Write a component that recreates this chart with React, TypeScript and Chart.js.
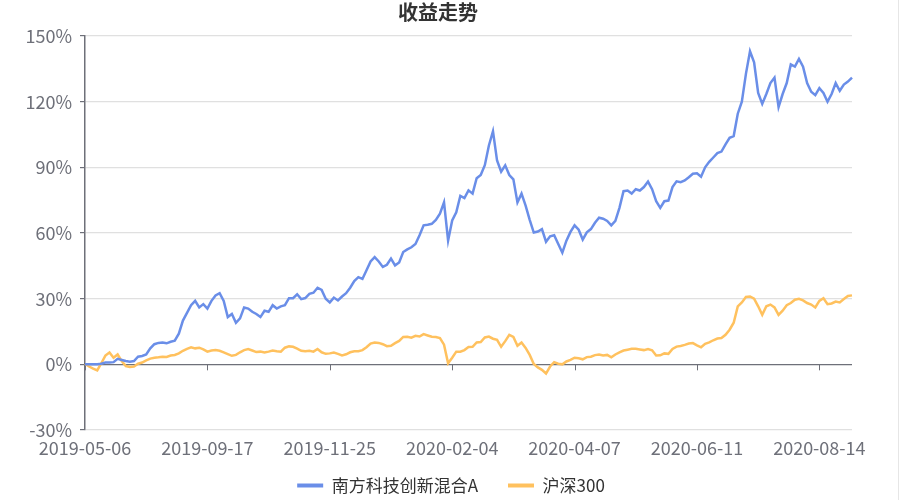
import React, { useEffect, useRef } from 'react';
import { Chart, registerables } from 'chart.js';

Chart.register(...registerables);

const titleText = '收益走势';
const seriesNames = ['南方科技创新混合A', '沪深300'];
const tickLabels = ['2019-05-06', '2019-09-17', '2019-11-25', '2020-02-04', '2020-04-07', '2020-06-11', '2020-08-14'];
const tickEvery = 30;
const yTicks = { min: -30, max: 150, step: 30 };

const fundValues = [
  0, 0, 0, 0, 0.3, 0.8, 0.8, 1, 2.5, 2,
  1.5, 1.2, 1.5, 3.5, 3.8, 4.5, 7.3, 9.2, 9.8, 10,
  9.6, 10.3, 10.8, 14, 20, 23.5, 27, 29, 26, 27.5,
  25.5, 29, 31.5, 32.5, 29, 21.6, 23, 19, 21, 26,
  25.5, 24, 23, 21.6, 24.5, 24, 27, 25.5, 26.5, 27,
  30.2, 30.2, 32, 29.8, 30.3, 32.2, 32.7, 35, 34, 30,
  28.3, 30.5, 29.2, 31, 32.5, 35, 38, 39.8, 39, 43,
  47, 49, 47, 44.5, 45.5, 48.3, 45.2, 46.5, 51.3, 52.5,
  53.5, 55, 59, 63.5, 63.8, 64.2, 66, 68.8, 74, 56.5,
  65.7, 69.5, 77, 76, 79.5, 78, 85, 86.5, 91, 100,
  106.5, 93.1, 88, 90.9, 86.5, 84.5, 74, 78, 72.5, 66,
  60.2, 60.7, 61.8, 56, 58.5, 59, 55, 51, 56.5, 60.5,
  63.5, 61.5, 57, 60.3, 61.8, 64.7, 67, 66.5, 65.5, 63.5,
  65.5, 71.5, 79.1, 79.4, 78, 80, 79.4, 81, 83.5, 80,
  74.5, 71.5, 74.5, 74.8, 81, 83.6, 83.2, 84, 85.5, 87.1,
  87.3, 85.7, 90, 92.5, 94.5, 96.5, 97.2, 100.5, 103.5, 104.3,
  114.5, 120, 132.7, 143, 138, 124, 119, 123.5, 128.5, 131,
  117.5, 123.5, 128.5, 137, 136, 139.5, 136, 128.5, 124.5, 123,
  126.2, 124, 120, 123.5, 128.5, 125, 127.8, 129.2, 131,
];

const indexValues = [
  0.3, -1, -2, -2.8, 0.5, 4, 5.4, 3, 4.5, 1.5,
  -0.8, -1.2, -1, 0.3, 0.8, 1.8, 2.6, 3, 3.2, 3.5,
  3.4, 4, 4.3, 5, 6.2, 7.1, 7.8, 7.3, 7.6, 6.8,
  5.8, 6.3, 6.5, 6.2, 5.5, 4.7, 3.9, 4.3, 5.5, 6.5,
  7, 6.3, 5.6, 5.8, 5.4, 5.8, 6.3, 6, 5.8, 7.6,
  8.2, 8, 7.2, 6.2, 6, 6.2, 5.8, 7, 5.5, 4.8,
  5, 5.4, 4.8, 4.1, 4.6, 5.5, 6, 6, 6.5, 7.8,
  9.5, 10, 9.8, 9.2, 8.3, 8.5, 9.7, 10.7, 12.5, 12.6,
  12.2, 13, 12.7, 13.8, 13.2, 12.6, 12.5, 12, 9, 0.5,
  3, 5.8, 5.8, 6.5, 7.9, 8, 10, 10.2, 12.3, 12.7,
  11.7, 11.2, 8, 10.6, 13.5, 12.5, 8.5, 10, 7.5, 4.3,
  0.2, -1.4, -2.5, -4.2, -1, 1, 0.3, 0, 1.3, 2,
  3, 2.8, 2.3, 3.3, 3.5, 4.2, 4.5, 4, 4.3, 3.2,
  4.5, 5.5, 6.3, 6.7, 7.1, 7.1, 6.8, 6.5, 7, 6.4,
  4, 4.1, 5, 4.8, 7, 8.1, 8.4, 8.9, 9.5, 9.7,
  8.7, 7.8, 9.4, 10, 11, 11.8, 12, 13.5, 15.8, 19,
  26.5, 28.3, 30.8, 31, 30, 26.5, 22.6, 26.5, 27.3, 26,
  22.6, 24.5, 27, 28, 29.5, 29.9, 29.2, 28, 27.3, 26,
  29, 30.2, 27.5, 27.8, 28.7, 28.3, 29.8, 31.2, 31.5,
];

const categories = fundValues.map((_, i) => (i % tickEvery === 0 ? tickLabels[i / tickEvery] ?? '' : ''));

const FONT = '"Noto Sans CJK SC", "Noto Sans", sans-serif';
const AXIS_DARK = '#6E7079';
const GRID_LIGHT = '#E0E0E0';
const BLUE = '#6A8EE8';
const ORANGE = '#FFC15E';

const titlePlugin = {
  id: 'customTitle',
  afterDraw(chart: any) {
    const ctx = chart.ctx;
    ctx.save();
    ctx.font = `bold 20px ${FONT}`;
    ctx.fillStyle = '#333333';
    ctx.textAlign = 'center';
    ctx.textBaseline = 'middle';
    ctx.fillText(titleText, chart.width / 2 - 13, 12);
    ctx.restore();
  },
};

const zeroAxisTicks = {
  id: 'zeroAxisTicks',
  beforeDatasetsDraw(chart: any) {
    const xs = chart.scales.x;
    const ys = chart.scales.y;
    const y0 = ys.getPixelForValue(0);
    const ctx = chart.ctx;
    ctx.save();
    ctx.strokeStyle = AXIS_DARK;
    ctx.lineWidth = 1;
    ctx.beginPath();
    categories.forEach((c, i) => {
      if (c) {
        const x = Math.round(xs.getPixelForValue(i)) + 0.5;
        ctx.moveTo(x, y0);
        ctx.lineTo(x, y0 + 6);
      }
    });
    ctx.stroke();
    ctx.restore();
  },
};

export default function App() {
  const canvasRef = useRef<HTMLCanvasElement | null>(null);

  useEffect(() => {
    document.body.style.margin = '0';
    const canvas = canvasRef.current;
    if (!canvas) return;
    const chart = new Chart(canvas, {
      type: 'line',
      data: {
        labels: categories,
        datasets: [
          {
            label: seriesNames[0],
            data: fundValues,
            borderColor: BLUE,
            backgroundColor: BLUE,
            borderWidth: 2.5,
            pointRadius: 0,
            pointStyle: 'line',
            tension: 0,
          },
          {
            label: seriesNames[1],
            data: indexValues,
            borderColor: ORANGE,
            backgroundColor: ORANGE,
            borderWidth: 2.5,
            pointRadius: 0,
            pointStyle: 'line',
            tension: 0,
          },
        ],
      },
      options: {
        animation: false,
        responsive: false,
        maintainAspectRatio: false,
        layout: { padding: { top: 36, right: 0, left: 0, bottom: -4 } },
        plugins: {
          title: { display: false },
          tooltip: { enabled: false },
          legend: {
            position: 'bottom',
            labels: {
              usePointStyle: true,
              pointStyleWidth: 26,
              padding: 30,
              color: '#333333',
              font: { family: FONT, size: 17 },
              generateLabels: (chart: any) =>
                Chart.defaults.plugins.legend.labels.generateLabels(chart).map((l: any) => ({
                  ...l,
                  lineWidth: 4,
                  pointStyle: 'line',
                })),
            },
          },
        },
        scales: {
          x: {
            type: 'category',
            offset: false,
            grid: { display: false, drawTicks: false },
            border: { display: false },
            afterFit: (scale: any) => {
              scale.height = 17;
              scale.paddingRight = 50;
            },
            ticks: {
              autoSkip: false,
              maxRotation: 0,
              minRotation: 0,
              mirror: true,
              padding: -29,
              color: AXIS_DARK,
              font: { family: FONT, size: 18 },
              callback: (_v: any, i: number) => categories[i],
            },
          },
          y: {
            min: yTicks.min,
            max: yTicks.max,
            afterFit: (scale: any) => {
              scale.width = 85;
            },
            border: { display: true, color: AXIS_DARK, width: 1.5 },
            grid: {
              color: (c: any) => (c.tick && c.tick.value === 0 ? AXIS_DARK : GRID_LIGHT),
              tickColor: AXIS_DARK,
              tickLength: 5,
              lineWidth: 1.2,
            },
            ticks: {
              stepSize: yTicks.step,
              padding: 8,
              color: AXIS_DARK,
              font: { family: FONT, size: 18 },
              callback: (v: any) => `${v}%`,
            },
          },
        },
      },
      plugins: [titlePlugin, zeroAxisTicks],
    });
    return () => chart.destroy();
  }, []);

  return (
    <div style={{ position: 'relative', width: 902, height: 500 }}>
      <canvas ref={canvasRef} width={902} height={500} style={{ display: 'block' }} />
      <div style={{ position: 'absolute', left: 898, top: 0, width: 1, height: 500, background: '#E6E6E6' }} />
    </div>
  );
}
